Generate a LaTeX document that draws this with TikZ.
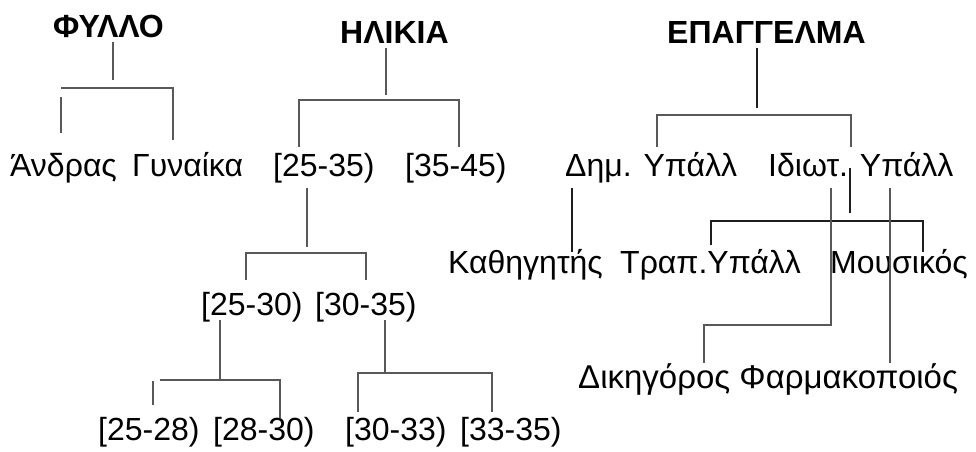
\documentclass[tikz,border=0pt]{standalone}
\usepackage{fontspec}
\setmainfont{Liberation Sans}
\begin{document}
\begin{tikzpicture}[x=1pt,y=-1pt,
  lbl/.style={anchor=base west,inner sep=0pt,font=\fontsize{32}{38}\selectfont},
  lblbig/.style={anchor=base west,inner sep=0pt,font=\fontsize{33}{40}\selectfont},
  hdr/.style={anchor=base west,inner sep=0pt,font=\fontsize{32}{38}\selectfont\bfseries},
  gline/.style={draw={rgb,255:red,88;green,88;blue,88},line width=2pt},
  kline/.style={draw={rgb,255:red,30;green,30;blue,30},line width=1.4pt}]
\useasboundingbox[fill=white] (0,0) rectangle (976,451);
% headings
\node[hdr] (fyllo) at (53,37) {ΦΥΛΛΟ};
\node[hdr] (ilikia) at (340,43) {ΗΛΙΚΙΑ};
\node[hdr] (epag) at (667,43) {ΕΠΑΓΓΕΛΜΑ};
% row 2
\node[lbl] (andras) at (10,176) {Άνδρας};
\node[lbl] (gynaika) at (132,176) {Γυναίκα};
\node[lbl] (a2535) at (273,176) {[25-35)};
\node[lbl] (a3545) at (405,176) {[35-45)};
\node[lbl] (dim) at (565,176) {Δημ. Υπάλλ};
\node[lbl] (idiot) at (768,176) {Ιδιωτ. Υπάλλ};
% row 3
\node[lbl] (kath) at (448,273) {Καθηγητής};
\node[lbl] (trap) at (620,273) {Τραπ.Υπάλλ};
\node[lbl] (mous) at (830,273) {Μουσικός};
\node[lbl] (a2530) at (201,315) {[25-30)};
\node[lbl] (a3035) at (315,315) {[30-35)};
% row 4
\node[lblbig] (dikfarm) at (578,388) {Δικηγόρος Φαρμακοποιός};
% row 5
\node[lbl] (a2528) at (98,440) {[25-28)};
\node[lbl] (a2830) at (213,440) {[28-30)};
\node[lbl] (a3033) at (345,440) {[30-33)};
\node[lbl] (a3335) at (460,440) {[33-35)};
% coordinates
\coordinate (f1) at (113,42); \coordinate (f2) at (113,80);
\coordinate (fb1) at (61,88); \coordinate (fb2) at (173,88); \coordinate (fr) at (173,140);
\coordinate (fl1) at (61,97); \coordinate (fl2) at (61,133);
\coordinate (i1) at (386,48); \coordinate (i2) at (386,95);
\coordinate (ib1) at (299,100); \coordinate (ib2) at (459,100);
\coordinate (il) at (299,147); \coordinate (ir) at (459,147);
\coordinate (j1) at (307,188); \coordinate (j2) at (307,247);
\coordinate (jb1) at (246,253); \coordinate (jb2) at (366,253);
\coordinate (jl) at (246,280); \coordinate (jr) at (366,280);
\coordinate (k1) at (220,320); \coordinate (k2) at (220,380);
\coordinate (kb1) at (160,380); \coordinate (kb2) at (280,380); \coordinate (kr) at (280,418);
\coordinate (kl1) at (153,381); \coordinate (kl2) at (153,405);
\coordinate (m1) at (385,320); \coordinate (m2) at (385,373);
\coordinate (mb1) at (358,373); \coordinate (mb2) at (492,373);
\coordinate (ml) at (358,412); \coordinate (mr) at (492,412);
\coordinate (e1) at (757,48); \coordinate (e2) at (757,108);
\coordinate (eb1) at (657,115); \coordinate (eb2) at (851,115);
\coordinate (el) at (657,147); \coordinate (er) at (851,147);
\coordinate (d1) at (572,188); \coordinate (d2) at (572,252);
\coordinate (p1) at (850,168); \coordinate (p2) at (850,213);
\coordinate (pb1) at (711,221); \coordinate (pb2) at (923,221);
\coordinate (pl) at (711,245); \coordinate (pr) at (923,252);
\coordinate (q1) at (831,188); \coordinate (q2) at (831,325); \coordinate (q3) at (704,325); \coordinate (q4) at (704,363);
\coordinate (r1) at (890,188); \coordinate (r2) at (890,363);
% ΦΥΛΛΟ
\draw[gline] (f1) -- (f2);
\draw[gline] (fl1) -- (fl2);
\draw[gline] (fb1) -- (fb2) -- (fr);
% ΗΛΙΚΙΑ
\draw[gline] (i1) -- (i2);
\draw[gline] (il) -- (ib1) -- (ib2) -- (ir);
\draw[gline] (j1) -- (j2);
\draw[gline] (jl) -- (jb1) -- (jb2) -- (jr);
\draw[gline] (k1) -- (k2);
\draw[gline] (kb1) -- (kb2) -- (kr);
\draw[gline] (kl1) -- (kl2);
\draw[gline] (m1) -- (m2);
\draw[gline] (ml) -- (mb1) -- (mb2) -- (mr);
% ΕΠΑΓΓΕΛΜΑ
\draw[kline] (e1) -- (e2);
\draw[gline] (el) -- (eb1) -- (eb2) -- (er);
\draw[kline] (d1) -- (d2);
\draw[kline] (p1) -- (p2);
\draw[kline] (pl) -- (pb1) -- (pb2) -- (pr);
\draw[gline] (q1) -- (q2) -- (q3) -- (q4);
\draw[gline] (r1) -- (r2);
\end{tikzpicture}
\end{document}
